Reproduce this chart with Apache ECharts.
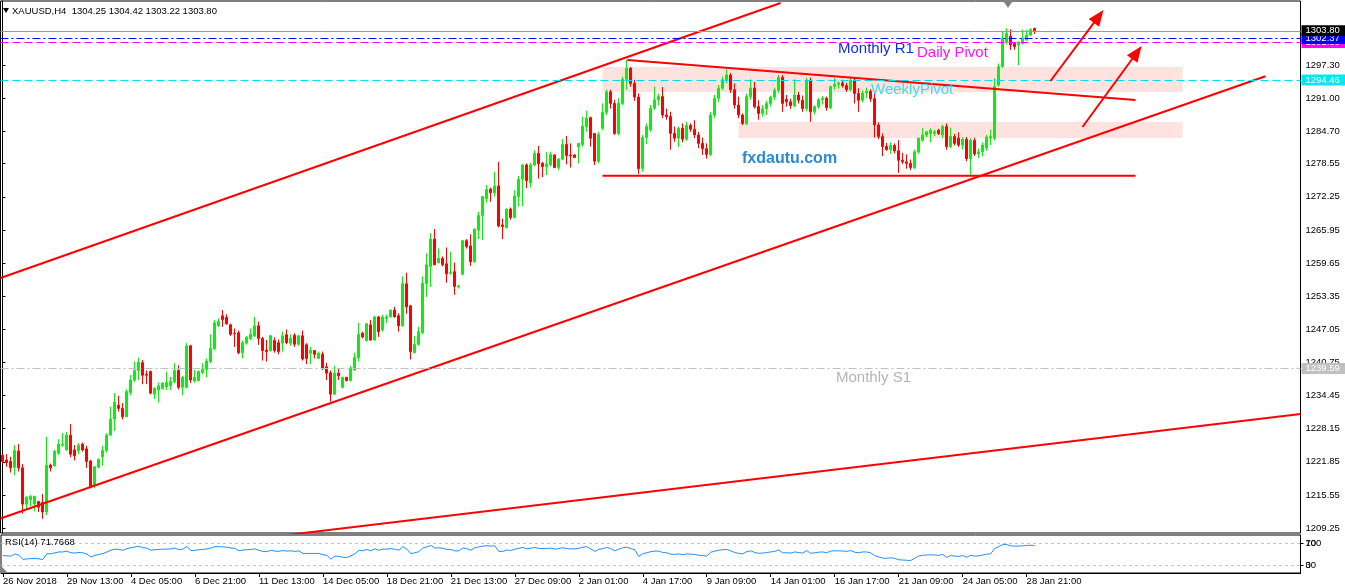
<!DOCTYPE html>
<html><head><meta charset="utf-8">
<script src="https://cdn.jsdelivr.net/npm/echarts@6/dist/echarts.min.js"></script>
<style>html,body{margin:0;padding:0;background:#fff}#c{width:1345px;height:587px}</style>
</head><body><div id="c"></div>
<script>
// ---------------- data ----------------
const headerText = 'XAUUSD,H4  1304.25 1304.42 1303.22 1303.80';
const rsiTitle = 'RSI(14) 71.7668';
const timeLabels = ['26 Nov 2018','29 Nov 13:00','4 Dec 05:00','6 Dec 21:00','11 Dec 13:00','14 Dec 05:00','18 Dec 21:00','21 Dec 13:00','27 Dec 09:00','2 Jan 01:00','4 Jan 17:00','9 Jan 09:00','14 Jan 01:00','16 Jan 17:00','21 Jan 09:00','24 Jan 05:00','28 Jan 21:00'];
const labelStep = 16;
const slotCount = 325;
const priceTicks = [1209.25,1215.55,1221.85,1228.15,1234.45,1240.75,1247.05,1253.35,1259.65,1265.95,1272.25,1278.55,1284.70,1291.00,1297.30];
const rsiLevels = [70, 30];
// candles: [open, high, low, close]
const candles = [
[1223.1,1223.3,1221.5,1221.9],[1222.2,1223.3,1220.9,1221.7],[1221.9,1222.8,1219.8,1220.7],[1220.8,1225.0,1219.3,1224.0],[1223.9,1225.2,1220.0,1220.7],
[1220.7,1221.4,1212.0,1213.8],[1213.8,1215.3,1212.8,1215.1],[1214.6,1215.5,1213.4,1215.3],[1213.8,1215.3,1212.4,1215.3],[1214.3,1214.4,1212.3,1213.2],
[1214.1,1215.7,1211.0,1212.3],[1212.3,1226.6,1211.7,1221.2],[1221.2,1221.5,1220.0,1220.7],[1221.1,1224.1,1220.9,1223.8],[1223.5,1226.1,1223.1,1225.2],
[1225.0,1227.3,1224.7,1225.2],[1224.1,1227.5,1224.0,1226.9],[1226.9,1229.0,1222.7,1223.3],[1224.1,1225.0,1222.1,1223.0],[1224.0,1225.4,1223.3,1225.0],
[1225.2,1225.5,1223.8,1224.1],[1224.3,1224.9,1220.7,1221.9],[1222.0,1222.2,1217.0,1217.1],[1217.4,1221.0,1216.8,1220.9],[1220.8,1222.5,1220.6,1222.3],
[1222.8,1224.9,1221.1,1224.0],[1224.0,1227.3,1223.6,1226.9],[1226.9,1232.3,1226.9,1230.0],[1230.0,1234.9,1227.7,1233.2],[1232.6,1234.4,1231.4,1232.0],
[1232.0,1233.0,1229.9,1230.4],[1230.4,1235.6,1230.4,1235.2],[1235.0,1238.3,1234.5,1237.4],[1237.4,1240.9,1237.0,1239.2],[1239.2,1241.7,1237.4,1240.8],
[1240.7,1241.2,1236.6,1238.3],[1238.5,1239.2,1236.6,1238.3],[1239.0,1239.2,1234.7,1234.9],[1234.7,1236.0,1233.8,1235.8],[1235.5,1236.9,1233.1,1236.3],
[1235.8,1237.0,1235.6,1236.8],[1236.1,1239.0,1235.5,1236.9],[1236.3,1238.0,1235.5,1237.1],[1237.1,1240.6,1236.8,1239.2],[1239.2,1240.2,1235.6,1236.0],
[1236.0,1238.2,1234.5,1237.9],[1236.0,1244.4,1235.8,1243.9],[1243.9,1244.1,1236.8,1237.4],[1237.2,1239.3,1236.9,1237.9],[1237.3,1239.2,1237.1,1239.0],
[1238.8,1240.6,1238.5,1239.4],[1239.4,1241.5,1237.9,1241.0],[1240.9,1246.1,1240.6,1243.4],[1243.4,1248.8,1243.1,1248.3],[1247.7,1249.1,1247.5,1248.5],
[1249.6,1250.7,1247.5,1248.9],[1249.3,1249.9,1247.9,1248.1],[1247.9,1248.1,1245.8,1246.1],[1246.3,1247.2,1243.7,1246.2],[1246.4,1246.8,1242.3,1242.6],
[1242.6,1244.9,1241.5,1244.5],[1244.4,1245.8,1244.1,1245.5],[1245.3,1247.2,1245.0,1246.1],[1245.8,1249.4,1245.6,1247.7],[1247.7,1248.5,1244.1,1245.3],
[1245.3,1245.6,1241.1,1243.0],[1243.1,1245.0,1240.9,1242.8],[1243.0,1246.0,1242.8,1245.8],[1244.9,1245.5,1242.6,1243.0],[1244.5,1245.1,1242.3,1242.8],
[1244.4,1246.6,1242.8,1245.8],[1246.0,1247.0,1244.2,1244.5],[1244.4,1246.1,1243.9,1245.3],[1245.9,1246.3,1243.7,1244.2],[1244.2,1246.0,1243.9,1245.8],
[1245.8,1246.8,1241.1,1241.4],[1244.1,1244.4,1240.4,1241.5],[1242.5,1243.7,1240.4,1243.0],[1243.0,1243.1,1241.5,1242.3],[1241.5,1242.8,1241.4,1242.5],
[1242.3,1242.8,1239.3,1239.6],[1239.9,1240.7,1237.4,1238.7],[1238.8,1239.2,1233.3,1234.7],[1234.7,1240.1,1234.5,1238.7],[1238.7,1239.6,1237.4,1238.2],
[1236.0,1238.0,1235.8,1237.9],[1237.9,1238.0,1237.1,1237.3],[1237.3,1240.1,1237.1,1239.6],[1239.3,1242.6,1239.2,1241.7],[1241.7,1248.2,1240.9,1246.1],
[1246.3,1246.6,1245.3,1245.6],[1244.9,1248.2,1244.7,1248.1],[1247.9,1248.8,1244.9,1245.0],[1245.0,1249.6,1244.9,1249.4],[1249.4,1249.6,1245.6,1246.6],
[1246.9,1249.8,1246.6,1249.4],[1249.1,1249.8,1248.2,1249.4],[1249.4,1250.8,1249.3,1250.7],[1250.7,1251.3,1249.3,1249.4],[1249.6,1250.1,1246.6,1247.7],
[1247.7,1257.1,1247.5,1255.7],[1255.7,1257.8,1250.0,1251.3],[1251.5,1251.7,1241.3,1242.8],[1242.6,1245.8,1242.5,1244.2],[1244.2,1247.5,1243.9,1246.6],
[1246.4,1257.1,1246.1,1255.8],[1255.7,1261.5,1253.2,1259.3],[1259.0,1265.3,1255.1,1264.2],[1264.2,1266.1,1259.3,1259.3],[1259.7,1262.4,1259.6,1260.5],
[1260.5,1260.9,1259.0,1259.3],[1259.5,1262.6,1255.9,1257.6],[1257.7,1261.8,1257.4,1257.9],[1258.0,1259.7,1253.6,1255.2],[1255.1,1255.5,1254.8,1255.3],
[1257.5,1264.0,1257.3,1263.9],[1263.9,1264.2,1262.4,1262.8],[1262.9,1265.1,1259.1,1259.9],[1259.9,1266.2,1259.7,1266.1],[1265.9,1269.4,1264.2,1268.7],
[1268.7,1272.3,1264.0,1272.3],[1271.9,1274.5,1271.1,1273.7],[1273.7,1274.0,1271.3,1273.0],[1273.0,1277.0,1272.3,1274.3],[1274.3,1278.9,1266.4,1266.7],
[1266.9,1268.1,1264.2,1266.6],[1266.4,1270.0,1266.2,1269.9],[1269.9,1270.2,1267.9,1268.3],[1268.3,1273.5,1268.1,1272.4],[1272.3,1276.2,1270.4,1275.6],
[1275.6,1278.5,1270.5,1278.3],[1278.3,1278.6,1273.9,1275.3],[1274.9,1278.7,1274.0,1278.3],[1278.3,1281.1,1278.1,1280.5],[1280.5,1281.9,1275.7,1278.5],
[1278.6,1278.9,1276.0,1278.0],[1278.0,1280.8,1276.4,1278.5],[1278.3,1280.8,1278.0,1280.3],[1280.2,1280.3,1277.7,1277.8],[1277.8,1279.6,1277.3,1279.4],
[1279.4,1283.2,1279.2,1282.2],[1282.2,1283.8,1278.4,1280.1],[1280.2,1282.4,1277.8,1280.0],[1280.2,1280.3,1279.6,1279.7],[1281.8,1282.4,1278.6,1282.4],
[1282.2,1287.5,1281.8,1285.7],[1285.6,1288.6,1284.6,1287.2],[1287.3,1287.5,1281.8,1283.4],[1284.3,1284.3,1278.3,1279.0],[1279.0,1284.6,1278.6,1284.1],
[1285.3,1290.0,1284.9,1288.3],[1288.3,1292.6,1287.8,1292.2],[1292.2,1292.6,1289.0,1290.0],[1290.0,1290.7,1284.0,1284.3],[1284.3,1291.0,1283.9,1290.0],
[1290.0,1295.1,1289.7,1294.6],[1294.6,1298.3,1292.6,1296.7],[1296.7,1296.9,1293.2,1293.8],[1293.8,1294.5,1290.5,1291.2],[1291.2,1291.9,1276.6,1277.6],
[1277.6,1284.0,1277.0,1283.5],[1283.5,1286.2,1282.3,1285.6],[1285.0,1289.7,1284.6,1289.1],[1289.1,1293.2,1288.8,1290.7],[1290.7,1291.9,1289.6,1291.3],
[1291.3,1293.1,1287.2,1287.8],[1287.8,1289.0,1286.9,1287.5],[1287.5,1288.4,1281.2,1284.3],[1284.3,1285.6,1282.7,1283.4],[1283.4,1285.6,1281.7,1285.3],
[1285.3,1286.2,1282.6,1283.2],[1283.2,1286.5,1282.9,1285.8],[1285.8,1286.2,1284.6,1285.1],[1285.1,1286.8,1283.4,1284.0],[1284.0,1284.6,1281.5,1282.4],
[1282.4,1283.5,1280.2,1281.4],[1281.4,1282.4,1279.5,1280.3],[1280.3,1288.4,1280.0,1287.8],[1287.8,1291.6,1287.2,1291.0],[1291.0,1293.5,1290.3,1292.9],
[1292.9,1295.1,1292.5,1294.5],[1294.5,1296.5,1293.8,1295.4],[1295.4,1295.8,1292.0,1292.6],[1292.6,1293.8,1289.0,1289.7],[1289.7,1291.3,1287.2,1287.8],
[1287.8,1288.1,1285.9,1286.2],[1286.2,1291.9,1285.9,1291.3],[1291.3,1294.6,1290.7,1292.9],[1292.9,1294.1,1289.0,1289.4],[1289.4,1290.6,1286.9,1288.1],
[1288.1,1289.7,1287.5,1289.0],[1289.0,1290.5,1287.8,1290.0],[1290.0,1291.5,1289.4,1291.2],[1291.2,1293.0,1290.6,1292.5],[1292.5,1295.4,1292.0,1295.0],
[1295.0,1295.4,1288.4,1290.0],[1290.8,1291.6,1289.4,1290.3],[1290.3,1290.9,1289.0,1289.6],[1289.6,1294.6,1289.3,1291.6],[1291.6,1292.2,1290.0,1290.6],
[1290.6,1291.5,1288.4,1289.0],[1289.0,1294.9,1288.5,1294.4],[1294.4,1294.9,1286.5,1288.4],[1288.4,1289.6,1287.9,1289.4],[1289.4,1291.0,1289.0,1290.7],
[1290.7,1291.4,1289.8,1291.0],[1291.0,1291.3,1288.6,1289.2],[1289.2,1293.4,1288.9,1293.2],[1293.2,1294.8,1292.6,1293.6],[1293.6,1294.2,1292.8,1293.9],
[1293.9,1294.5,1293.0,1293.4],[1293.4,1293.9,1292.2,1292.6],[1292.6,1295.1,1292.3,1294.4],[1294.4,1294.8,1290.0,1291.9],[1291.9,1292.9,1288.4,1290.6],
[1290.6,1292.5,1290.2,1292.0],[1292.0,1293.0,1291.0,1292.3],[1292.3,1292.7,1290.3,1290.9],[1290.9,1291.9,1283.5,1285.9],[1285.9,1286.4,1283.2,1283.7],
[1283.7,1284.3,1280.0,1281.8],[1281.8,1282.5,1281.0,1281.2],[1281.2,1282.6,1280.4,1282.0],[1282.0,1282.4,1280.5,1281.0],[1281.0,1283.0,1276.8,1279.2],
[1279.2,1280.6,1278.5,1278.9],[1278.9,1280.3,1277.6,1278.6],[1278.6,1279.3,1277.3,1277.8],[1277.8,1281.2,1277.5,1280.8],[1280.8,1283.5,1280.4,1283.4],
[1283.0,1285.3,1282.7,1284.0],[1284.0,1284.8,1283.6,1284.6],[1284.3,1285.3,1282.6,1284.9],[1284.3,1285.0,1283.8,1284.6],[1284.9,1285.2,1284.0,1284.3],
[1284.0,1285.9,1283.4,1285.6],[1285.6,1286.2,1281.2,1281.8],[1281.8,1285.4,1281.5,1283.7],[1283.7,1284.2,1282.0,1282.4],[1283.4,1284.5,1281.7,1282.1],
[1282.1,1283.6,1281.2,1283.2],[1283.2,1283.6,1279.0,1279.5],[1279.5,1283.4,1276.4,1283.0],[1283.0,1283.5,1280.0,1280.4],[1280.4,1281.4,1279.6,1280.8],
[1280.8,1282.6,1279.9,1282.1],[1281.5,1284.0,1281.0,1283.6],[1283.4,1285.0,1282.1,1283.7],[1283.4,1294.8,1283.0,1293.2],[1293.5,1297.6,1293.2,1297.0],
[1297.0,1303.6,1296.8,1302.4],[1301.6,1304.3,1301.2,1303.3],[1302.8,1304.1,1300.2,1301.1],[1301.4,1301.7,1300.2,1300.8],[1301.1,1301.7,1297.3,1301.7],
[1301.4,1304.0,1301.2,1302.4],[1302.1,1304.0,1301.9,1303.0],[1303.0,1304.3,1302.8,1304.0],[1304.25,1304.42,1303.22,1303.80]
];
const rsiValues = [
47.5,47.0,46.5,50.5,48.0,40.5,41.5,42.0,42.5,41.5,
40.5,51.0,50.5,52.5,54.0,54.0,55.5,52.5,52.0,53.0,
52.5,50.0,45.0,48.0,49.5,51.0,54.0,57.0,59.0,58.5,
57.0,60.0,61.5,63.0,64.0,61.5,61.0,57.0,58.0,58.5,
59.0,59.0,59.5,61.0,58.0,59.0,64.0,56.5,57.0,58.0,
58.5,59.5,61.0,63.5,63.5,63.0,62.5,61.0,60.5,56.0,
57.5,58.0,58.5,59.5,57.0,55.0,54.5,57.0,55.5,55.0,
56.5,55.5,56.0,55.0,56.0,51.5,51.0,51.5,51.0,51.5,
49.0,48.0,41.0,46.5,46.0,44.5,44.0,47.0,50.5,57.0,
56.0,58.5,56.0,59.5,57.0,59.0,59.0,60.0,59.0,57.0,
63.5,59.0,51.0,52.5,54.5,61.0,63.0,65.5,61.0,61.5,
60.5,58.5,58.5,56.0,56.0,61.0,60.0,57.0,61.5,63.0,
64.5,65.0,64.5,65.0,55.0,55.0,57.5,56.5,59.0,60.5,
62.0,59.5,61.0,62.0,60.5,60.0,60.0,61.0,59.0,60.0,
61.5,60.0,59.5,59.5,60.5,62.5,63.5,59.5,55.0,58.5,
60.0,62.0,60.0,56.0,59.0,61.5,62.5,60.0,58.0,46.0,
51.0,52.5,54.5,55.5,55.5,53.0,52.5,50.0,49.5,50.5,
49.0,50.5,50.0,49.5,48.0,47.5,46.5,53.5,55.5,57.0,
58.0,58.5,56.0,53.0,51.5,50.5,54.5,56.0,53.0,51.5,
52.0,53.0,54.0,55.0,57.5,52.5,52.5,52.0,54.0,53.0,
52.0,56.5,51.5,52.5,53.5,54.0,52.5,55.5,56.0,56.0,
55.5,55.0,56.5,53.5,52.5,54.0,54.0,52.5,47.5,45.0,
43.0,42.5,43.5,42.5,40.0,39.5,39.0,38.5,42.5,46.5,
48.0,48.5,49.0,48.5,48.0,49.5,44.0,47.5,46.5,46.0,
47.5,44.5,48.0,46.5,47.0,48.5,50.0,50.5,60.0,63.5,
67.0,67.5,65.0,64.5,64.5,65.0,65.5,66.0,65.5
];
// horizontal levels (price)
const levelNames  = ['Daily Pivot','Monthly R1','Bid','Weekly Pivot','Monthly S1'];
const levelValues = [1301.60, 1302.37, 1303.80, 1294.46, 1239.59];
// trend lines as [barIndex, price] pairs
const trendLines = [
  [[-0.5,1256.8],[194.5,1309.1]],
  [[-0.5,1211.06],[315.75,1295.16]],
  [[70,1207.82],[324.5,1230.93]],
  [[156.2,1298.26],[283.25,1290.65]],
  [[150,1276.26],[283.25,1276.26]]
];
const arrowLines = [
  [[262,1294.26],[274.05,1306.55]],
  [[270,1285.51],[283.6,1299.68]]
];
const zones = [
  [[150,1296.92],[295,1292.17]],
  [[184,1286.47],[295,1283.42]]
];
const yMin = 1208.30, yMax = 1309.48;
const rsiMin = 16.2, rsiMax = 84.4;

// ---------------- chart ----------------
const FONT = '"Liberation Sans", Arial, sans-serif';
const UP = '#10ec10', DOWN = '#ff0000', TL = '#ff0000';
const cats = Array.from({length: slotCount}, (_, i) => String(i));
const showLabel = (i) => i % labelStep === 0 && (i / labelStep) < timeLabels.length;

const levelStyles = [
  {line:{color:'#ff00ff', type:[8,4], width:1}, bg:'#ff00ff'},
  {line:{color:'#0000ff', type:[8,3,2,3], width:1}, bg:'#0000ff'},
  {line:{color:'#9a9a9a', type:'solid', width:1}, bg:'#000000'},
  {line:{color:'#00dfe8', type:[8,4], width:1}, bg:'#00e8f4'},
  {line:{color:'#c0c0c0', type:[8,3,2,3], width:1}, bg:'#c0c0c0'}
];

const chart = echarts.init(document.getElementById('c'), null, {renderer:'canvas', width:1345, height:587});

const series = [];
series.push({
  type:'line', xAxisIndex:1, yAxisIndex:0, data:[], z:1, silent:true,
  markArea:{silent:true, itemStyle:{color:'#fde2df'},
    data: zones.map(z => [{coord:z[0]},{coord:z[1]}])},
  markLine:{silent:true, symbol:'none', animation:false,
    data: levelValues.map((v,k) => ({
      yAxis: v,
      lineStyle: levelStyles[k].line,
      label:{show:true, position:'end', distance:1, formatter: v.toFixed(2),
        color:'#fff', backgroundColor: levelStyles[k].bg, padding:[1,6,0,4],
        fontSize:9.5, fontFamily:FONT, lineHeight:10}
    }))}
});
series.push({
  type:'candlestick', xAxisIndex:0, yAxisIndex:0, z:3, barWidth:2,
  data: candles.map(c => [c[0], c[3], c[2], c[1]]),
  itemStyle:{color:UP, color0:DOWN, borderColor:UP, borderColor0:DOWN, borderWidth:1}
});
trendLines.forEach(t => series.push({
  type:'line', xAxisIndex:1, yAxisIndex:0, data:t, symbol:'none', z:4, silent:true,
  lineStyle:{color:TL, width:2}
}));
series.push({
  type:'line', xAxisIndex:1, yAxisIndex:0, data:[], z:4, silent:true,
  markLine:{silent:true, symbol:['none','triangle'], symbolSize:[13,16],
    lineStyle:{color:TL, width:2, type:'solid'}, label:{show:false},
    data: arrowLines.map(a => [{coord:a[0]},{coord:a[1]}])}
});
series.push({
  type:'line', xAxisIndex:2, yAxisIndex:1, data:rsiValues, symbol:'none', z:3,
  lineStyle:{color:'#1e90ff', width:1},
  markLine:{silent:true, symbol:'none', label:{show:false},
    lineStyle:{color:'#c4c4c4', type:[3,3], width:1},
    data: rsiLevels.map(v => ({yAxis:v}))}
});

const txt = (x, y, text, fill, font) => ({type:'text', x, y, z:100, silent:true,
  style:{text, fill, font, verticalAlign:'middle', align:'left'}});

const option = {
  animation:false,
  backgroundColor:'#ffffff',
  grid:[
    {left:0.5, right:44.5, top:1, bottom:54, show:true, borderColor:'#000', borderWidth:1},
    {left:0.5, right:44.5, top:535, bottom:14, show:true, borderColor:'#000', borderWidth:1}
  ],
  xAxis:[
    {type:'category', gridIndex:0, data:cats, show:false},
    {type:'value', gridIndex:0, min:-0.5, max:slotCount-0.5, show:false},
    {type:'category', gridIndex:1, data:cats,
      axisLine:{show:true, lineStyle:{color:'#000'}},
      axisTick:{show:true, interval:(i)=>showLabel(i), alignWithLabel:true, length:4, lineStyle:{color:'#000'}},
      axisLabel:{interval:(i)=>showLabel(i), formatter:(v)=>{const i=parseInt(v,10); return showLabel(i)?timeLabels[i/labelStep]:'';},
        align:'left', margin:3, color:'#000', fontSize:9.5, fontFamily:FONT},
      splitLine:{show:false}}
  ],
  yAxis:[
    {type:'value', gridIndex:0, position:'right', min:yMin, max:yMax, splitLine:{show:false},
      axisLine:{show:true, lineStyle:{color:'#000'}},
      axisTick:{show:true, customValues:priceTicks, length:3, lineStyle:{color:'#000'}},
      axisLabel:{customValues:priceTicks, formatter:(v)=>Number(v).toFixed(2), color:'#000', fontSize:9.5, fontFamily:FONT, margin:5}},
    {type:'value', gridIndex:1, position:'right', min:rsiMin, max:rsiMax, splitLine:{show:false},
      axisLine:{show:true, lineStyle:{color:'#000'}},
      axisTick:{show:true, customValues:rsiLevels, length:3, lineStyle:{color:'#000'}},
      axisLabel:{customValues:rsiLevels, color:'#000', fontSize:9.5, fontFamily:FONT, margin:5}},
    {type:'value', gridIndex:1, position:'right', min:rsiMin, max:rsiMax, splitLine:{show:false},
      axisLine:{show:false}, axisTick:{show:false},
      axisLabel:{customValues:rsiLevels, formatter:(v)=> v > 50 ? '100' : '0', color:'#000', fontSize:9.5, fontFamily:FONT, margin:5}}
  ],
  series,
  graphic:[
    {type:'polygon', z:100, silent:true, shape:{points:[[3,8],[9,8],[6,13]]}, style:{fill:'#000'}},
    txt(12, 11, headerText, '#000', '9.5px ' + FONT),
    {type:'polygon', z:100, silent:true, shape:{points:[[1004,2],[1012,2],[1008,8]]}, style:{fill:'#808080'}},
    {type:'polygon', z:100, silent:true, shape:{points:[[1,566],[1,573],[8,573]]}, style:{fill:'#808080'}},
    txt(5, 542, rsiTitle, '#000', '9.5px ' + FONT),
    txt(838, 49, 'Monthly R1', '#1030d8', '15px ' + FONT),
    txt(917, 53, 'Daily Pivot', '#ff10ff', '15px ' + FONT),
    txt(871, 90, 'WeeklyPivot', '#3fdcee', '15px ' + FONT),
    txt(836, 378, 'Monthly S1', '#b4b4b4', '15px ' + FONT),
    txt(742, 159, 'fxdautu.com', '#2a8ad4', 'bold 16px ' + FONT)
  ]
};
chart.setOption(option);
</script>
</body></html>
